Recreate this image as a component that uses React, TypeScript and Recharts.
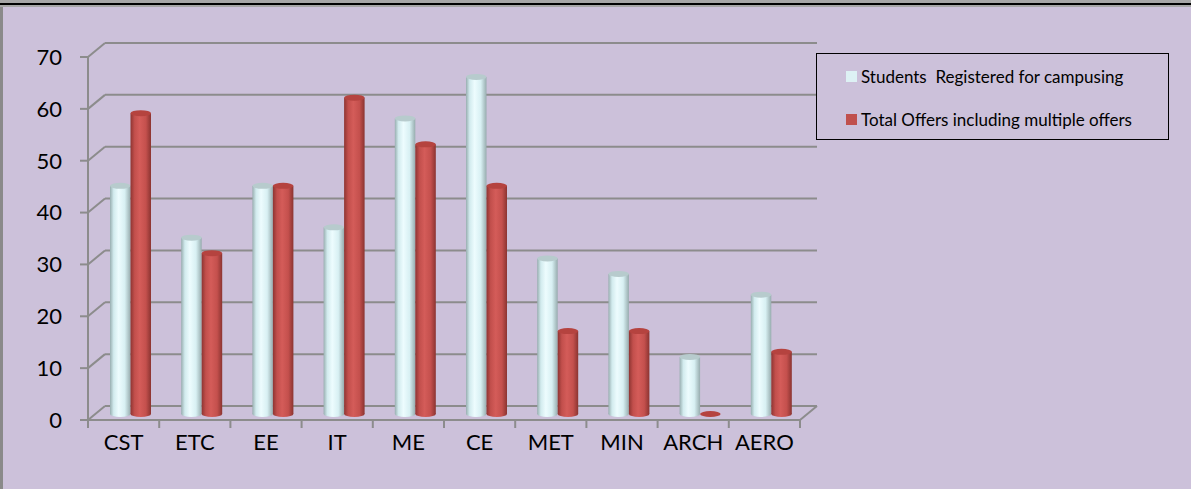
import React from 'react';
import { BarChart, Bar, XAxis, YAxis, CartesianGrid } from 'recharts';

const categories = ['CST', 'ETC', 'EE', 'IT', 'ME', 'CE', 'MET', 'MIN', 'ARCH', 'AERO'];
const registered = [44, 34, 44, 36, 57, 65, 30, 27, 11, 23];
const offers = [58, 31, 44, 61, 52, 44, 16, 16, 0, 12];
const yTicks = [0, 10, 20, 30, 40, 50, 60, 70];
const seriesNames = ['Students  Registered for campusing', 'Total Offers including multiple offers'];

const data = categories.map((c, i) => ({ name: c, registered: registered[i], offers: offers[i] }));

const W = 1191;
const H = 489;
const PLOT_LEFT = 88;
const PLOT_RIGHT = 800;
const PLOT_TOP = 57;
const PLOT_BOTTOM = 420;
const BAND = (PLOT_RIGHT - PLOT_LEFT) / categories.length;
// depth of the 3d box
const DX = 17;
const DY = 14;
// bars sit a little way into the box
const BX = 7;
const BY = 6;

const FONT = 'Lato, "Open Sans", sans-serif';
const GRID = '#8c8c8c';
const BG = '#CCC1DA';

function Cylinder(props: any) {
  const { x, y, width, height, grad, top } = props;
  if (x == null || y == null) return null;
  const X = x + BX;
  const Y = y - BY;
  const h = Math.max(0, height || 0);
  const cx = X + width / 2;
  const rx = width / 2;
  const ry = 3;
  if (h < 0.5) {
    return <ellipse cx={cx} cy={Y} rx={rx} ry={ry} fill={top} />;
  }
  return (
    <g>
      <ellipse cx={cx} cy={Y + h} rx={rx} ry={ry} fill={`url(#${grad})`} />
      <rect x={X} y={Y} width={width} height={h} fill={`url(#${grad})`} />
      <ellipse cx={cx} cy={Y} rx={rx} ry={ry} fill={top} />
    </g>
  );
}

function GridLine(props: any) {
  const { x1, y1, x2 } = props;
  const bottom = Math.abs(y1 - PLOT_BOTTOM) < 1;
  return (
    <g stroke={GRID} strokeWidth={2} fill="none">
      <line x1={x1} y1={y1} x2={x1 + DX} y2={y1 - DY} />
      <line x1={x1 + DX} y1={y1 - DY} x2={x2 + DX} y2={y1 - DY} />
      {bottom && <line x1={x2} y1={y1} x2={x2 + DX} y2={y1 - DY} />}
    </g>
  );
}

function CategoryTick(props: any) {
  const { x, y, payload, index } = props;
  const last = index === categories.length - 1;
  return (
    <g>
      <line x1={x - BAND / 2} y1={y} x2={x - BAND / 2} y2={y + 8} stroke={GRID} strokeWidth={2} />
      {last && <line x1={x + BAND / 2} y1={y} x2={x + BAND / 2} y2={y + 8} stroke={GRID} strokeWidth={2} />}
      <text x={x} y={y + 22} dy="0.36em" textAnchor="middle" fontSize={22} fontFamily={FONT} fill="#000">
        {payload.value}
      </text>
    </g>
  );
}

function LegendBox() {
  const items = [
    { name: seriesNames[0], color: '#DDF1F4' },
    { name: seriesNames[1], color: '#C0504D' },
  ];
  return (
    <div
      style={{
        position: 'absolute',
        left: 816,
        top: 53,
        width: 353,
        height: 87,
        border: '1.5px solid #000',
        boxSizing: 'border-box',
        fontFamily: FONT,
        fontSize: 17,
        color: '#000',
        paddingTop: 11,
      }}
    >
      {items.map((it, i) => (
        <div key={i} style={{ display: 'flex', alignItems: 'center', height: 22, marginBottom: i === 0 ? 21 : 0, paddingLeft: 29 }}>
          <span style={{ width: 11, height: 11, background: it.color, marginRight: 4, display: 'inline-block', flex: 'none' }} />
          <span style={{ whiteSpace: 'pre' }}>{it.name}</span>
        </div>
      ))}
    </div>
  );
}

export default function App() {
  return (
    <div style={{ position: 'absolute', left: 0, top: 0, width: W, height: H, background: BG, overflow: 'hidden' }}>
      <div style={{ position: 'absolute', left: 0, top: 0, width: W, height: 3, background: '#a6a6a6' }} />
      <div style={{ position: 'absolute', left: 0, top: 3, width: W, height: 2, background: '#000' }} />
      <div style={{ position: 'absolute', left: 0, top: 5, width: W, height: 2, background: '#a6a6a6' }} />
      <div style={{ position: 'absolute', left: 0, top: 7, width: 3, height: H - 7, background: '#8a8a8a' }} />
      <div style={{ position: 'absolute', left: 0, top: 0 }}>
        <BarChart
          width={W}
          height={H}
          data={data}
          margin={{ top: PLOT_TOP, right: W - PLOT_RIGHT, bottom: H - PLOT_BOTTOM - 40, left: PLOT_LEFT - 60 }}
          barGap={0}
          barSize={20.5}
        >
          <defs>
            <linearGradient id="gWhite" x1="0" y1="0" x2="1" y2="0">
              <stop offset="0%" stopColor="#98AEB0" />
              <stop offset="18%" stopColor="#D2EBEE" />
              <stop offset="42%" stopColor="#EDFCFE" />
              <stop offset="72%" stopColor="#D8F0F3" />
              <stop offset="100%" stopColor="#97ACAE" />
            </linearGradient>
            <linearGradient id="gRed" x1="0" y1="0" x2="1" y2="0">
              <stop offset="0%" stopColor="#8E3532" />
              <stop offset="20%" stopColor="#C24F4C" />
              <stop offset="45%" stopColor="#D45C59" />
              <stop offset="75%" stopColor="#C4504D" />
              <stop offset="100%" stopColor="#8B3431" />
            </linearGradient>
          </defs>
          <CartesianGrid vertical={false} horizontal={(p: any) => <GridLine key={p.key ?? p.index} {...p} />} />
          <XAxis
            dataKey="name"
            axisLine={{ stroke: GRID, strokeWidth: 2 }}
            tickLine={false}
            tickSize={0}
            tickMargin={0}
            height={40}
            interval={0}
            tick={<CategoryTick />}
          />
          <YAxis
            domain={[0, 70]}
            ticks={yTicks}
            width={60}
            axisLine={{ stroke: GRID, strokeWidth: 2 }}
            tickLine={{ stroke: GRID, strokeWidth: 2 }}
            tickSize={8}
            tickMargin={18}
            tick={{ fontSize: 22, fontFamily: FONT, fill: '#000' }}
          />
          <Bar
            dataKey="registered"
            name={seriesNames[0]}
            isAnimationActive={false}
            shape={(p: any) => <Cylinder {...p} grad="gWhite" top="#B7CBCD" />}
          />
          <Bar
            dataKey="offers"
            name={seriesNames[1]}
            isAnimationActive={false}
            shape={(p: any) => <Cylinder {...p} grad="gRed" top="#B5433F" />}
          />
        </BarChart>
      </div>
      <LegendBox />
    </div>
  );
}
